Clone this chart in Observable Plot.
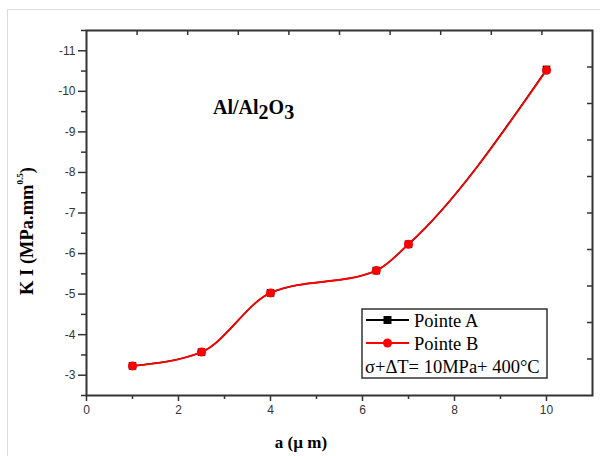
<!DOCTYPE html>
<html>
<head>
<meta charset="utf-8">
<script src="https://cdn.jsdelivr.net/npm/d3@7"></script>
<script src="https://cdn.jsdelivr.net/npm/@observablehq/plot@0.6"></script>
<style>
  html, body { margin: 0; padding: 0; background: #fff; }
  #wrap { position: relative; width: 600px; height: 456px; overflow: hidden; }
  #edge { position: absolute; left: 7px; top: 9px; width: 620px; height: 470px;
          border-left: 1px solid #dcdcdc; border-top: 1px solid #dcdcdc; }
  #chart { position: absolute; left: 0; top: 0; }
</style>
</head>
<body>
<div id="wrap"><div id="edge"></div><div id="chart"></div></div>
<script>
// ---- data ----
const crackLength = [1, 2.5, 4, 6.3, 7, 10];          // a (µm)
const pointeA = [-3.23, -3.57, -5.03, -5.58, -6.23, -10.54];
const pointeB = [-3.23, -3.57, -5.03, -5.58, -6.23, -10.52];
const xMajorTicks = [0, 2, 4, 6, 8, 10];
const xMinorTicks = [1, 3, 5, 7, 9];
const yMajorTicks = [-3, -4, -5, -6, -7, -8, -9, -10, -11];
const yMinorTicks = [-2.5, -3.5, -4.5, -5.5, -6.5, -7.5, -8.5, -9.5, -10.5, -11.5];
const topTicks = [1.1, 2.2, 3.3, 4.4, 5.5, 6.6, 7.7, 8.8, 9.9];
const rightTicks = [-3.4, -4.3, -5.2, -6.1, -7.0, -7.9, -8.8, -9.7, -10.6];
const seriesNames = ["Pointe A", "Pointe B"];
const conditionText = "σ+ΔT= 10MPa+ 400°C";
const titleParts = ["Al/Al", "2", "O", "3"];
const xLabel = "a (µ m)";
const yLabelParts = ["K I (MPa.mm", "0.5", ")"];

const rowsA = crackLength.map((a, i) => ({a, k: pointeA[i]}));
const rowsB = crackLength.map((a, i) => ({a, k: pointeB[i]}));

const W = 600, H = 456, ML = 86, MR = 8, MT = 30, MB = 61;
const frameW = W - ML - MR, frameH = H - MT - MB;
const axisColor = "#333";
const serif = "'Liberation Serif', 'Times New Roman', serif";

const plot = Plot.plot({
  width: W, height: H,
  marginLeft: ML, marginRight: MR, marginTop: MT, marginBottom: MB,
  x: {domain: [0, 11]},
  y: {domain: [-2.5, -11.5]},
  style: {fontFamily: "'Liberation Sans', Arial, sans-serif", fontSize: "12px", color: axisColor, background: "transparent"},
  marks: [
    Plot.axisX({ticks: xMajorTicks, tickSize: 6, tickPadding: 4, strokeWidth: 1.5, tickFormat: d => String(d), label: null}),
    Plot.axisX({ticks: xMinorTicks, tickSize: 4, strokeWidth: 1.5, tickFormat: () => "", label: null}),
    Plot.axisY({ticks: yMajorTicks, tickSize: 8, tickPadding: 3, strokeWidth: 1.5, tickFormat: d => String(d), label: null}),
    Plot.axisY({ticks: yMinorTicks, tickSize: 5, strokeWidth: 1.5, tickFormat: () => "", label: null}),
    Plot.tickX(topTicks, {x: d => d, insetBottom: frameH - 5, stroke: axisColor, strokeWidth: 1.5}),
    Plot.tickY(rightTicks, {y: d => d, insetLeft: frameW - 5, stroke: axisColor, strokeWidth: 1.5}),
    Plot.frame({stroke: axisColor, strokeWidth: 2}),
    Plot.line(rowsA, {x: "a", y: "k", curve: "monotone-x", stroke: "black", strokeWidth: 1.5}),
    Plot.dot(rowsA, {x: "a", y: "k", symbol: "square", r: 4.3, fill: "black", stroke: "none"}),
    Plot.line(rowsB, {x: "a", y: "k", curve: "monotone-x", stroke: "#ff0000", strokeWidth: 1.8}),
    Plot.dot(rowsB, {x: "a", y: "k", symbol: "circle", r: 4.5, fill: "#ff0000", stroke: "none"})
  ]
});
document.getElementById("chart").appendChild(plot);

const svg = d3.select(plot);

// title
const title = svg.append("text")
  .attr("x", 213).attr("y", 114)
  .attr("text-anchor", "start")
  .attr("font-family", serif).attr("font-weight", "bold").attr("font-size", 20)
  .attr("fill", "#000");
title.append("tspan").text(titleParts[0]);
title.append("tspan").attr("dy", 5).text(titleParts[1]);
title.append("tspan").attr("dy", -5).text(titleParts[2]);
title.append("tspan").attr("dy", 5).text(titleParts[3]);

// x label
svg.append("text")
  .attr("x", 301).attr("y", 448)
  .attr("text-anchor", "middle")
  .attr("font-family", serif).attr("font-weight", "bold").attr("font-size", 17)
  .attr("fill", "#000")
  .text(xLabel);

// y label
const yl = svg.append("text")
  .attr("transform", "translate(33,231) rotate(-90)")
  .attr("text-anchor", "middle")
  .attr("font-family", serif).attr("font-weight", "bold").attr("font-size", 18.5)
  .attr("fill", "#000");
yl.append("tspan").text(yLabelParts[0]);
yl.append("tspan").attr("dy", -10).attr("font-size", 9).text(yLabelParts[1]);
yl.append("tspan").attr("dy", 10).text(yLabelParts[2]);

// legend
const lg = svg.append("g").attr("text-anchor", "start");
lg.append("rect").attr("x", 362).attr("y", 309).attr("width", 185).attr("height", 69)
  .attr("fill", "#fff").attr("stroke", "#333").attr("stroke-width", 1.5);
const entries = [
  {name: seriesNames[0], color: "black", symbol: d3.symbolSquare, cy: 320},
  {name: seriesNames[1], color: "#ff0000", symbol: d3.symbolCircle, cy: 343}
];
for (const e of entries) {
  lg.append("line").attr("x1", 366).attr("x2", 409).attr("y1", e.cy).attr("y2", e.cy)
    .attr("stroke", e.color).attr("stroke-width", 1.8);
  lg.append("path").attr("d", d3.symbol(e.symbol, 4.5 * 4.5 * Math.PI)())
    .attr("transform", `translate(387.5,${e.cy})`).attr("fill", e.color);
  lg.append("text").attr("x", 414).attr("y", e.cy + 7).attr("text-anchor", "start")
    .attr("font-family", serif).attr("font-size", 18.5).attr("fill", "#000").text(e.name);
}
lg.append("text").attr("x", 365).attr("y", 373).attr("text-anchor", "start")
  .attr("font-family", serif).attr("font-size", 18.5).attr("fill", "#000").text(conditionText);
</script>
</body>
</html>
